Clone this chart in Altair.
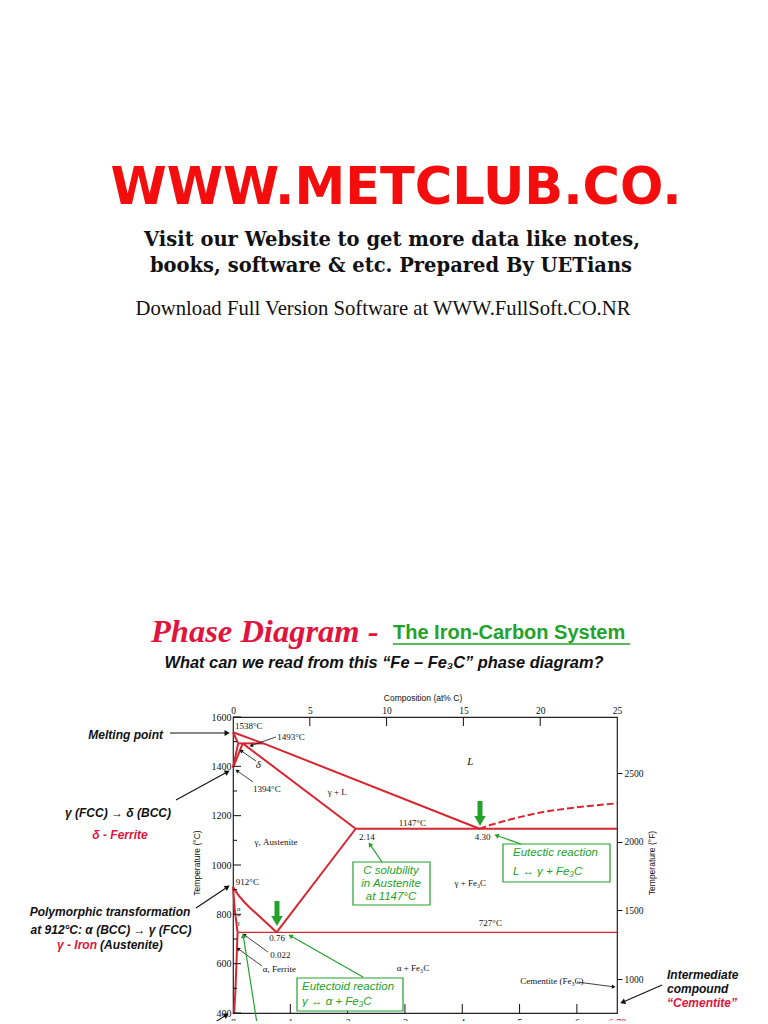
import math
import altair as alt
import pandas as pd

# ---------------- data ----------------
wt_domain = [0, 6.70]            # wt% C (bottom axis)
temp_domain = [400, 1600]        # deg C (left axis)
at_domain = [0, 25]              # at% C (top axis)
f_domain = [temp_domain[0] * 1.8 + 32, temp_domain[1] * 1.8 + 32]  # deg F (right axis)

wt_ticks = [0, 1, 2, 3, 4, 5, 6, 6.70]
wt_major = [1, 2, 3, 4, 5, 6]
temp_ticks = [400, 600, 800, 1000, 1200, 1400, 1600]
temp_minor = [500, 700, 900, 1100, 1300, 1500]
at_ticks = [0, 5, 10, 15, 20, 25]
at_major = [5, 10, 15, 20]
f_ticks = [1000, 1500, 2000, 2500]

# phase boundaries (wt% C, deg C)
liquidus_wt = [0, 0.53, 4.30]
liquidus_T = [1538, 1493, 1147]
delta_solidus_wt = [0, 0.09]
delta_solidus_T = [1538, 1493]
peritectic_wt = [0.09, 0.53]
peritectic_T = [1493, 1493]
delta_solvus_wt = [0, 0.09]
delta_solvus_T = [1394, 1493]
gamma_delta_wt = [0, 0.17]
gamma_delta_T = [1394, 1493]
gamma_solidus_wt = [0.17, 2.14]
gamma_solidus_T = [1493, 1147]
eutectic_wt = [2.14, 6.70]
eutectic_T = [1147, 1147]
acm_wt = [2.14, 0.76]
acm_T = [1147, 727]
a3_wt = [0, 0.05, 0.10, 0.20, 0.30, 0.44, 0.60, 0.76]
a3_T = [912, 893, 876, 849, 826, 796, 762, 727]
alpha_gamma_wt = [0, 0.03, 0.08]
alpha_gamma_T = [912, 820, 727]
ferrite_solvus_wt = [0.08, 0.06, 0.04, 0.02]
ferrite_solvus_T = [727, 600, 480, 400]
eutectoid_wt = [0.08, 6.70]
eutectoid_T = [727, 727]
fe3c_liquidus_wt = [4.30, 4.50, 4.72, 5.00, 5.37, 5.80, 6.12, 6.70]
fe3c_liquidus_T = [1147, 1163, 1177, 1194, 1213, 1228, 1237, 1250]

solid_bounds = {
    "liquidus": (liquidus_wt, liquidus_T),
    "delta_solidus": (delta_solidus_wt, delta_solidus_T),
    "peritectic": (peritectic_wt, peritectic_T),
    "delta_solvus": (delta_solvus_wt, delta_solvus_T),
    "gamma_delta": (gamma_delta_wt, gamma_delta_T),
    "gamma_solidus": (gamma_solidus_wt, gamma_solidus_T),
    "eutectic": (eutectic_wt, eutectic_T),
    "acm": (acm_wt, acm_T),
    "a3": (a3_wt, a3_T),
    "alpha_gamma": (alpha_gamma_wt, alpha_gamma_T),
    "ferrite_solvus": (ferrite_solvus_wt, ferrite_solvus_T),
}

# region / point labels (text, wt% C, deg C)
serif_labels = [
    ("1538°C", 0.035, 1563, "left"),
    ("1493°C", 0.77, 1520, "left"),
    ("1394°C", 0.35, 1308, "left"),
    ("γ + L", 1.82, 1297, "center"),
    ("1147°C", 3.13, 1171, "center"),
    ("γ, Austenite", 0.75, 1094, "center"),
    ("2.14", 2.20, 1115, "left"),
    ("4.30", 4.22, 1115, "left"),
    ("912°C", 0.05, 932, "left"),
    ("727°C", 4.49, 763, "center"),
    ("0.76", 0.77, 703, "center"),
    ("0.022", 0.65, 635, "left"),
    ("α, Ferrite", 0.52, 577, "left"),
    ("γ + Fe₃C", 4.14, 927, "center"),
    ("α + Fe₃C", 3.14, 581, "center"),
    ("Cementite (Fe₃C)", 5.01, 530, "left"),
]
small_labels = [("α", 0.10, 822), ("+", 0.10, 793), ("γ", 0.10, 764)]
italic_labels = [("δ", 0.44, 1405), ("L", 4.14, 1418)]

# ---------------- layout ----------------
OX, OY = 233, 717          # page position of plot origin
W, H = 384, 296
RED = "#d7262f"
CRIMSON = "#e0143c"
GREEN = "#22a22a"
INK = "#111111"

X_MAIN = alt.X("wt:Q", scale=alt.Scale(domain=wt_domain, nice=False, zero=False),
               axis=alt.Axis(orient="bottom", values=wt_ticks, ticks=False, domain=False, grid=False,
                             title=None, labelPadding=4, labelFont="Liberation Serif", labelFontSize=10,
                             labelOverlap=False, labelFlush=False,
                             labelExpr="datum.value == 6.7 ? '6.70' : datum.label",
                             labelColor={"condition": {"test": "datum.value == 6.7", "value": CRIMSON},
                                         "value": INK}))
Y_MAIN = alt.Y("T:Q", scale=alt.Scale(domain=temp_domain, nice=False, zero=False),
               axis=alt.Axis(orient="left", values=temp_ticks, ticks=False, domain=False, grid=False,
                             title=None, labelPadding=2, labelFont="Liberation Serif", labelFontSize=10,
                             format="d", labelColor=INK, labelOverlap=False, labelFlush=False))

one = pd.DataFrame({"k": [0]})


def txt(s, px, py, size, color=INK, font="Liberation Sans", weight="normal", style="normal",
        align="center", baseline="middle", angle=None):
    kw = dict(align=align, baseline=baseline, fontSize=size, font=font, fontWeight=weight,
              fontStyle=style, color=color)
    if angle is not None:
        kw["angle"] = angle
    return alt.Chart(one).mark_text(**kw).encode(
        x=alt.value(px - OX), y=alt.value(py - OY), text=alt.value(s))


def seg(x1, y1, x2, y2, color=INK, width=1.0):
    return alt.Chart(one).mark_rule(color=color, strokeWidth=width).encode(
        x=alt.value(x1 - OX), y=alt.value(y1 - OY), x2=alt.value(x2 - OX), y2=alt.value(y2 - OY))


def head(tx, ty, fx, fy, color=INK, size=30):
    ang = math.degrees(math.atan2(tx - fx, -(ty - fy))) % 360
    d = math.hypot(tx - fx, ty - fy)
    r = math.sqrt(size) * 0.45
    cx, cy = tx - (tx - fx) / d * r, ty - (ty - fy) / d * r
    return alt.Chart(one).mark_point(shape="triangle", filled=True, size=size, angle=ang,
                                     color=color, opacity=1, strokeWidth=0).encode(
        x=alt.value(cx - OX), y=alt.value(cy - OY))


def arrow(fx, fy, tx, ty, color=INK, width=1.0, size=30):
    d = math.hypot(tx - fx, ty - fy)
    back = math.sqrt(size) * 0.6
    ex, ey = tx - (tx - fx) / d * back, ty - (ty - fy) / d * back
    return [seg(fx, fy, ex, ey, color, width), head(tx, ty, fx, fy, color, size)]


def box(x1, y1, x2, y2):
    return alt.Chart(one).mark_rect(fill="white", stroke=GREEN, strokeWidth=1.2).encode(
        x=alt.value(x1 - OX), y=alt.value(y1 - OY), x2=alt.value(x2 - OX), y2=alt.value(y2 - OY))


layers = []

# phase boundary lines
rows = []
for name, (ws, ts) in solid_bounds.items():
    for i, (w, t) in enumerate(zip(ws, ts)):
        rows.append({"seg": name, "i": i, "wt": w, "T": t})
solid_df = pd.DataFrame(rows)
eutectoid_df = pd.DataFrame({"wt": eutectoid_wt, "T": eutectoid_T, "i": range(len(eutectoid_wt))})
dashed_df = pd.DataFrame({"wt": fe3c_liquidus_wt, "T": fe3c_liquidus_T, "i": range(len(fe3c_liquidus_wt))})

layers.append(alt.Chart(solid_df).mark_line(color=RED, strokeWidth=2).encode(
    x=X_MAIN, y=Y_MAIN, detail="seg:N", order="i:Q"))
layers.append(alt.Chart(eutectoid_df).mark_line(color=RED, strokeWidth=1.3).encode(
    x=X_MAIN, y=Y_MAIN, order="i:Q"))
layers.append(alt.Chart(dashed_df).mark_line(color=RED, strokeWidth=2, strokeDash=[7, 3],
                                             interpolate="monotone").encode(
    x=X_MAIN, y=Y_MAIN, order="i:Q"))

# manual inward ticks
layers.append(alt.Chart(pd.DataFrame({"T": temp_ticks})).mark_rule(color=INK, strokeWidth=1).encode(
    y=Y_MAIN, x=alt.value(0), x2=alt.value(8)))
layers.append(alt.Chart(pd.DataFrame({"T": temp_minor})).mark_rule(color=INK, strokeWidth=1).encode(
    y=Y_MAIN, x=alt.value(0), x2=alt.value(4)))
layers.append(alt.Chart(pd.DataFrame({"wt": wt_major})).mark_rule(color=INK, strokeWidth=1).encode(
    x=X_MAIN, y=alt.value(H), y2=alt.value(H - 9)))

# labels in the diagram
lab_df = pd.DataFrame(serif_labels, columns=["txt", "wt", "T", "al"])
for al in ["left", "center"]:
    sub = lab_df[lab_df["al"] == al]
    layers.append(alt.Chart(sub).mark_text(align=al, baseline="middle", font="Liberation Serif",
                                           fontSize=9, color=INK).encode(
        x=X_MAIN, y=Y_MAIN, text="txt:N"))
layers.append(alt.Chart(pd.DataFrame(small_labels, columns=["txt", "wt", "T"])).mark_text(
    align="center", baseline="middle", font="Liberation Serif", fontSize=6.5, color=INK).encode(
    x=X_MAIN, y=Y_MAIN, text="txt:N"))
layers.append(alt.Chart(pd.DataFrame(italic_labels, columns=["txt", "wt", "T"])).mark_text(
    align="center", baseline="middle", font="Liberation Serif", fontStyle="italic", fontSize=11,
    color=INK).encode(x=X_MAIN, y=Y_MAIN, text="txt:N"))

# black leaders inside the diagram
layers += arrow(276, 737, 250, 746, size=18, width=0.8)
layers += arrow(256, 761, 240, 750, size=18, width=0.8)
layers += arrow(253, 782, 236, 770, size=18, width=0.8)
layers += arrow(268, 952, 243, 934, size=18, width=0.8)
layers += arrow(262, 966, 237, 948, size=18, width=0.8)
layers += arrow(577, 982, 615, 987, size=18, width=0.8)

# green boxes
layers.append(box(503, 844, 610, 882))
layers.append(txt("Eutectic reaction", 513, 853, 11.5, GREEN, style="italic", align="left"))
layers.append(txt("L ↔ γ + Fe₃C", 513, 872, 11.5, GREEN, style="italic", align="left"))
layers += arrow(521, 844, 495, 835, GREEN, 1.2, 28)

layers.append(box(353, 862, 430, 905))
layers.append(txt("C solubility", 391, 871, 11.5, GREEN, style="italic"))
layers.append(txt("in Austenite", 391, 884, 11.5, GREEN, style="italic"))
layers.append(txt("at 1147°C", 391, 897, 11.5, GREEN, style="italic"))
layers += arrow(382, 862, 369, 843, GREEN, 1.2, 28)

layers.append(box(297, 978, 403, 1011))
layers.append(txt("Eutectoid reaction", 302, 987, 11.5, GREEN, style="italic", align="left"))
layers.append(txt("γ ↔ α + Fe₃C", 302, 1002, 11.5, GREEN, style="italic", align="left"))
layers += arrow(363, 977, 289, 935, GREEN, 1.2, 28)
layers += arrow(258, 1030, 243, 934, GREEN, 1.2, 28)

# thick green arrows
for ax_, ty in [(480, 827), (277, 927)]:
    layers.append(seg(ax_, ty - 26, ax_, ty - 9, GREEN, 5))
    layers.append(alt.Chart(one).mark_point(shape="triangle-down", filled=True, size=130, color=GREEN,
                                            opacity=1, strokeWidth=0).encode(
        x=alt.value(ax_ - OX), y=alt.value(ty - 6 - OY)))

# axis titles
layers.append(txt("Composition (at% C)", 423, 698, 8.5))
layers.append(txt("Temperature (°C)", 197, 863, 8.5, angle=270))
layers.append(txt("Temperature (°F)", 652, 863, 8.5, angle=270))

# page header
layers.append(txt("WWW.METCLUB.CO.", 396, 189, 51, "#f40d0d", font="DejaVu Sans", weight="bold"))
layers.append(txt("Visit our Website to get more data like notes,", 392, 240, 19.5, INK,
                  font="DejaVu Serif", weight="bold"))
layers.append(txt("books, software & etc.  Prepared By UETians", 391, 266, 19.5, INK,
                  font="DejaVu Serif", weight="bold"))
layers.append(txt("Download Full Version Software at WWW.FullSoft.CO.NR", 383, 309, 20.7, INK,
                  font="Liberation Serif"))

layers.append(txt("Phase Diagram -", 151, 632, 32.5, CRIMSON, font="Liberation Serif", weight="bold",
                  style="italic", align="left"))
layers.append(txt("The Iron-Carbon System", 393, 633, 20, GREEN, weight="bold", align="left"))
layers.append(seg(393, 644, 630, 644, GREEN, 1.6))
layers.append(txt("What can we read from this “Fe – Fe₃C” phase diagram?", 384, 663, 16.4, INK,
                  weight="bold", style="italic"))

# left-side notes
layers.append(txt("Melting point", 163, 735, 12, INK, weight="bold", style="italic", align="right"))
layers += arrow(170, 733, 229, 733, INK, 1.1, 36)
layers.append(txt("γ (FCC) → δ (BCC)", 118, 813, 12, INK, weight="bold", style="italic"))
layers.append(txt("δ - Ferrite", 120, 835, 12, CRIMSON, weight="bold", style="italic"))
layers += arrow(176, 800, 229, 771, INK, 1.1, 36)
layers.append(txt("Polymorphic transformation", 110, 912, 12, INK, weight="bold", style="italic"))
layers.append(txt("at 912°C:  α (BCC) → γ (FCC)", 111, 930, 12, INK, weight="bold", style="italic"))
layers.append(txt("γ - Iron", 97, 945, 12, CRIMSON, weight="bold", style="italic", align="right"))
layers.append(txt("(Austenite)", 100, 945, 12, INK, weight="bold", style="italic", align="left"))
layers += arrow(196, 908, 229, 886, INK, 1.1, 36)
layers += arrow(212, 1024, 228, 1014, INK, 1.1, 36)

# right-side notes
layers.append(txt("Intermediate", 667, 975, 12, INK, weight="bold", style="italic", align="left"))
layers.append(txt("compound", 667, 989, 12, INK, weight="bold", style="italic", align="left"))
layers.append(txt("“Cementite”", 667, 1003, 12, CRIMSON, weight="bold", style="italic", align="left"))
layers += arrow(662, 985, 621, 1003, INK, 1.1, 36)

main = alt.layer(*layers)

# secondary scales: at% C on top, deg F on right
X_AT = alt.X("at:Q", scale=alt.Scale(domain=at_domain, nice=False, zero=False),
             axis=alt.Axis(orient="top", values=at_ticks, ticks=False, domain=False, grid=False, title=None,
                           labelPadding=2, labelFont="Liberation Serif", labelFontSize=9.5, labelColor=INK,
                           labelOverlap=False, labelFlush=False))
Y_F = alt.Y("F:Q", scale=alt.Scale(domain=f_domain, nice=False, zero=False),
            axis=alt.Axis(orient="right", values=f_ticks, ticks=True, tickSize=5, tickColor=INK,
                          domain=False, grid=False, title=None, labelPadding=2, format="d",
                          labelFont="Liberation Serif", labelFontSize=9.5, labelColor=INK,
                          labelOverlap=False, labelFlush=False))
sec = alt.layer(
    alt.Chart(pd.DataFrame({"at": at_major})).mark_rule(color=INK, strokeWidth=1).encode(
        x=X_AT, y=alt.value(0), y2=alt.value(9)),
    alt.Chart(pd.DataFrame({"F": f_ticks})).mark_point(opacity=0).encode(
        y=Y_F, x=alt.value(W)),
)

chart = alt.layer(main, sec).resolve_scale(x="independent", y="independent").properties(
    width=W, height=H,
    padding={"left": OX - 8, "top": OY - 8, "right": 768 - 16 - (OX - 8) - W, "bottom": 8},
    autosize=alt.AutoSizeParams(type="none"),
    background="white",
).configure_view(stroke="#222222", strokeWidth=1.2)

chart.save("out.html", embed_options={"renderer": "svg", "actions": False})
